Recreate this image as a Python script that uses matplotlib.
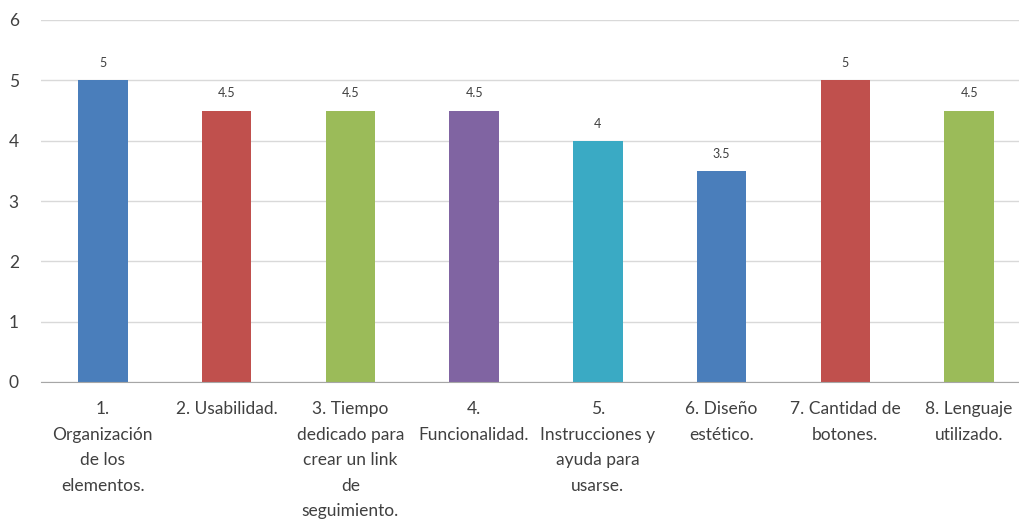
import matplotlib
matplotlib.use("Agg")
import matplotlib.pyplot as plt

categories = [
    "1.\nOrganización\nde los\nelementos.",
    "2. Usabilidad.",
    "3. Tiempo\ndedicado para\ncrear un link\nde\nseguimiento.",
    "4.\nFuncionalidad.",
    "5.\nInstrucciones y\nayuda para\nusarse.",
    "6. Diseño\nestético.",
    "7. Cantidad de\nbotones.",
    "8. Lenguaje\nutilizado.",
]
values = [5, 4.5, 4.5, 4.5, 4, 3.5, 5, 4.5]
value_labels = ["5", "4.5", "4.5", "4.5", "4", "3.5", "5", "4.5"]
colors = ["#4A7EBB", "#C0504D", "#9BBB59", "#8064A2", "#3AAAC4",
          "#4A7EBB", "#C0504D", "#9BBB59"]
yticks = [0, 1, 2, 3, 4, 5, 6]

plt.rcParams["font.family"] = ["Lato", "DejaVu Sans"]

fig = plt.figure(figsize=(10.2, 5.27), dpi=100)
W, H = 1020, 527
left, right, top, bottom = 41, 1031, 20, 382
ax = fig.add_axes([left / W, (H - bottom) / H, (right - left) / W, (bottom - top) / H])

x = list(range(len(values)))
bars = ax.bar(x, values, width=0.4, color=colors, zorder=3)
for b, lab in zip(bars, value_labels):
    ax.annotate(lab, (b.get_x() + b.get_width() / 2, b.get_height()),
                xytext=(0, 8), textcoords="offset points",
                ha="center", va="bottom", fontsize=9, color="#404040")

ax.set_xlim(-0.5, len(values) - 0.5)
ax.set_ylim(0, 6)
ax.set_yticks(yticks)
ax.set_xticks(x)
ax.set_xticklabels(categories, fontsize=12.5, color="#404040", linespacing=1.72, va="top")
ax.tick_params(axis="y", labelsize=12.5, colors="#404040", length=0, pad=16)
ax.tick_params(axis="x", length=0, pad=14)
ax.grid(axis="y", color="#D9D9D9", linewidth=1, zorder=0)
for s in ["top", "right", "left"]:
    ax.spines[s].set_visible(False)
ax.spines["bottom"].set_color("#A6A6A6")
ax.spines["bottom"].set_zorder(4)

fig.savefig("out.png", dpi=100, facecolor="white")
